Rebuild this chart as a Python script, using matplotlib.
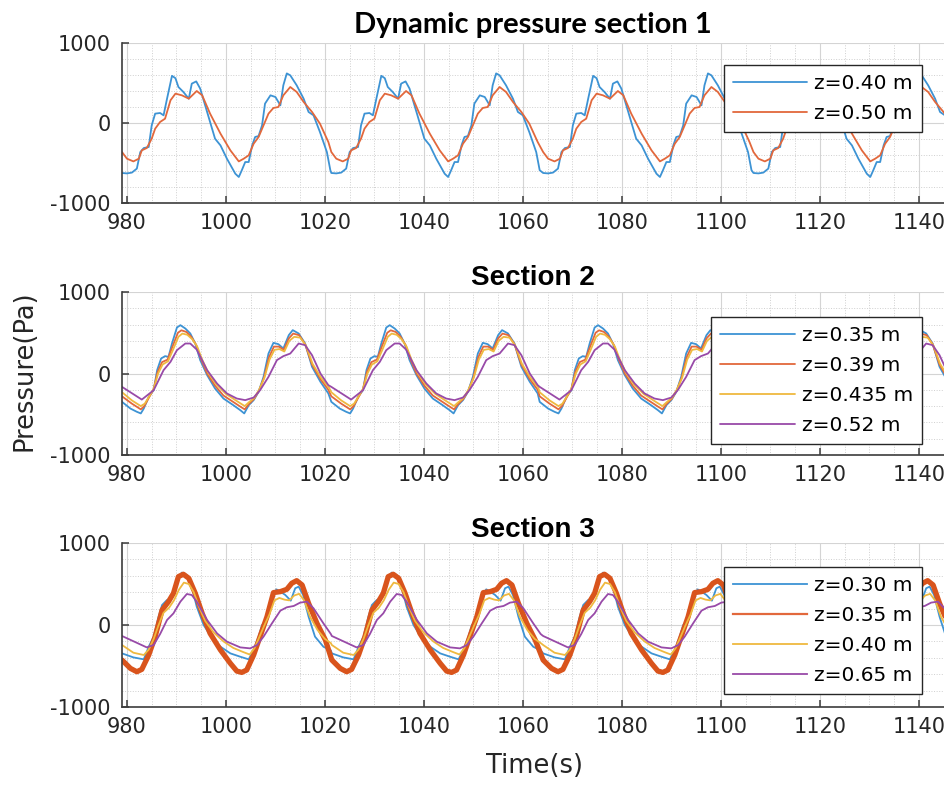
import matplotlib
matplotlib.use('Agg')
import matplotlib.pyplot as plt
import numpy as np
from matplotlib.ticker import MultipleLocator
from matplotlib.lines import Line2D

plt.rcParams['axes.unicode_minus'] = False


# ----------------------------------------------------------------------------------------
#                             DATA AREA
# one double wave cycle (979 s -> ~1021 s), plus the
# start offsets of the following double cycles read off the peaks


# section 1
s1_offsets = [0.0, 42.3, 85.1, 127.6]
s1_labels  = ['z=0.40 m', 'z=0.50 m']

s1_t_040 = [979.0, 980.0, 981.0, 982.0, 982.7, 983.4, 984.4, 985.0, 985.7, 986.7,
            987.4, 988.1, 989.1, 989.8, 990.4, 991.4, 992.5, 993.1, 994.0, 994.8,
            996.2, 997.8, 998.9, 1000.2, 1001.9, 1002.6, 1003.2, 1003.9, 1004.6, 1005.3,
            1005.9, 1006.6, 1007.3, 1007.9, 1009.0, 1010.0, 1011.0, 1011.6, 1012.3, 1013.0,
            1014.3, 1015.7, 1016.7, 1017.7, 1019.0, 1020.4, 1021.1]
s1_p_040 = [-625, -630, -620, -570, -363, -313, -300, -30, 117, 125,
            96, 304, 590, 560, 450, 388, 304, 492, 520, 430,
            138, -196, -280, -446, -634, -675, -592, -488, -488, -280,
            -175, -163, -30, 242, 346, 325, 221, 471, 620, 596,
            471, 304, 138, 96, -113, -363, -590]

s1_t_050 = [979.0, 980.0, 981.3, 982.4, 983.0, 984.0, 985.0, 985.7, 986.7, 987.7,
            988.8, 989.8, 991.1, 992.5, 994.1, 995.2, 996.8, 998.9, 1000.9, 1002.6,
            1003.6, 1004.6, 1005.6, 1006.6, 1007.6, 1008.6, 1009.6, 1010.6, 1011.6, 1013.0,
            1014.3, 1015.7, 1017.4, 1019.0, 1020.7]
s1_p_050 = [-363, -446, -480, -446, -342, -313, -196, -71, 13, 54,
            284, 367, 346, 304, 400, 346, 117, -133, -342, -480,
            -446, -404, -259, -175, -30, 117, 188, 200, 346, 450,
            388, 263, 138, -8, -238]


# section 2
s2_offsets = [0.0, 42.3, 84.4, 126.8]
s2_labels  = ['z=0.35 m', 'z=0.39 m', 'z=0.435 m', 'z=0.52 m']

s2_t_035 = [979.0, 980.7, 982.0, 982.8, 983.4, 984.4, 985.4, 986.1, 986.9, 987.7,
            988.4, 989.1, 990.1, 990.8, 991.8, 992.8, 993.8, 994.8, 996.2, 997.8,
            999.5, 1001.5, 1002.9, 1003.7, 1004.6, 1005.6, 1006.6, 1007.6, 1008.6, 1009.6,
            1010.6, 1011.6, 1012.7, 1013.5, 1014.7, 1016.0, 1017.4, 1019.1, 1020.7]
s2_p_035 = [-348, -430, -470, -490, -430, -286, -205, 41, 184, 213,
            205, 368, 564, 593, 552, 491, 368, 164, -20, -184,
            -307, -389, -450, -490, -389, -327, -225, -41, 245, 376,
            360, 307, 470, 532, 491, 368, 82, -102, -245]

s2_t_039 = [979.0, 981.0, 982.8, 983.5, 984.5, 985.4, 986.2, 987.1, 988.2, 989.2,
            990.3, 991.0, 992.0, 993.0, 994.0, 995.0, 996.2, 997.8, 999.5, 1001.5,
            1003.0, 1003.8, 1004.7, 1005.7, 1006.7, 1007.7, 1008.7, 1009.7, 1010.7, 1011.7,
            1012.7, 1013.6, 1014.8, 1016.0, 1017.4, 1019.1, 1020.7]
s2_p_039 = [-280, -370, -440, -400, -290, -190, 20, 140, 170, 330,
            500, 530, 510, 450, 350, 170, 0, -150, -270, -350,
            -410, -440, -370, -310, -210, -50, 200, 330, 330, 290,
            430, 490, 470, 360, 110, -70, -200]

s2_t_0435 = [979.0, 981.0, 982.8, 983.6, 984.5, 985.4, 986.3, 987.2, 988.3, 989.3,
             990.4, 991.2, 992.2, 993.2, 994.2, 995.2, 996.5, 998.0, 1000.0, 1002.0,
             1003.8, 1004.7, 1005.7, 1006.7, 1007.8, 1008.8, 1009.8, 1010.8, 1011.8, 1012.8,
             1013.8, 1015.0, 1016.2, 1017.5, 1019.2, 1020.8]
s2_p_0435 = [-230, -330, -400, -370, -280, -190, 0, 110, 150, 290,
             450, 490, 475, 420, 330, 170, 0, -130, -250, -330,
             -400, -350, -300, -200, -50, 170, 290, 300, 270, 400,
             450, 440, 340, 120, -50, -170]

s2_t_052 = [979.0, 983.0, 985.4, 987.4, 988.8, 990.1, 991.8, 992.8, 994.1, 996.2,
            998.2, 1000.2, 1002.2, 1003.9, 1005.6, 1006.9, 1008.6, 1010.3, 1011.6, 1013.0,
            1014.7, 1016.0, 1017.4, 1019.1, 1020.7]
s2_p_052 = [-164, -320, -205, 41, 143, 286, 368, 368, 294, 41,
            -123, -245, -307, -327, -295, -205, -41, 164, 213, 245,
            368, 348, 225, 0, -143]


# section 3
s3_offsets = [0.0, 42.4, 85.1, 127.5]
s3_labels  = ['z=0.30 m', 'z=0.35 m', 'z=0.40 m', 'z=0.65 m']

s3_t_030 = [979.0, 981.3, 983.4, 984.4, 985.4, 986.4, 987.1, 988.1, 989.1, 990.1,
            991.1, 992.1, 993.1, 994.1, 995.5, 997.2, 998.9, 1000.9, 1002.9, 1004.6,
            1005.6, 1006.6, 1007.3, 1008.3, 1009.3, 1010.2, 1011.0, 1012.0, 1013.1, 1014.0,
            1014.7, 1015.6, 1016.7, 1018.0, 1019.7, 1021.2]
s3_p_030 = [-346, -395, -419, -265, -142, 102, 244, 305, 326, 550,
            639, 610, 468, 224, 0, -163, -265, -346, -387, -419,
            -305, -142, 0, 61, 326, 435, 407, 366, 297, 448,
            468, 366, 102, -142, -265, -310]

s3_t_035 = [979.0, 980.7, 982.0, 983.0, 984.4, 985.7, 987.1, 988.4, 989.4, 990.4,
            991.4, 992.5, 993.8, 995.2, 996.8, 998.9, 1000.9, 1002.2, 1003.2, 1004.2,
            1005.6, 1006.9, 1008.3, 1009.6, 1011.0, 1012.3, 1013.3, 1014.3, 1015.4, 1016.7,
            1018.4, 1020.1]
s3_p_035 = [-427, -529, -570, -541, -366, -142, 183, 285, 387, 590,
            619, 570, 387, 142, -102, -305, -468, -562, -578, -549,
            -366, -142, 102, 395, 407, 435, 509, 541, 488, 265,
            20, -183]

s3_t_040 = [979.0, 981.3, 983.4, 984.4, 985.4, 986.4, 987.4, 988.5, 989.5, 990.5,
            991.5, 992.5, 993.5, 994.5, 995.8, 997.5, 999.5, 1001.5, 1003.5, 1004.8,
            1005.8, 1006.8, 1007.8, 1008.8, 1009.8, 1010.8, 1011.8, 1012.8, 1013.8, 1014.8,
            1015.8, 1017.0, 1018.5, 1020.0, 1021.2]
s3_p_040 = [-244, -338, -366, -300, -170, 0, 150, 210, 300, 430,
            517, 500, 400, 230, 50, -90, -200, -280, -330, -360,
            -280, -140, 0, 130, 300, 330, 310, 300, 360, 380,
            300, 100, -60, -170, -220]

s3_t_065 = [979.0, 984.0, 985.4, 986.7, 988.1, 989.4, 990.8, 992.1, 993.1, 994.1,
            996.2, 998.2, 1000.2, 1002.9, 1004.9, 1006.3, 1007.6, 1009.3, 1011.0, 1012.3,
            1013.7, 1015.0, 1016.4, 1017.7, 1019.7, 1021.2]
s3_p_065 = [-134, -273, -244, -110, 61, 142, 285, 378, 366, 285,
            61, -102, -203, -273, -285, -244, -142, 20, 175, 216,
            232, 273, 285, 204, 20, -110]


colors = ['#3d93d4', '#e2683c', '#efb93f', '#984aa8']
thick_orange = '#d9541c'


# build()
# - repeat the read double cycle at the read cycle offsets
# -----------------------------------------------------------------------
def build(t_list, p_list, offsets):
    t = np.array(t_list, dtype=float)
    p = np.array(p_list, dtype=float)
    t_out = []
    p_out = []
    for k, off in enumerate(offsets):
        if k + 1 < len(offsets):
            keep = (t - t[0]) < (offsets[k + 1] - off)
        else:
            keep = np.ones_like(t, dtype=bool)
        t_out.append(t[keep] + off)
        p_out.append(p[keep])
    return np.concatenate(t_out), np.concatenate(p_out)


# ----------------------------------------------------------------------------------------
#                             PLOTTING AREA

def style_axes(ax):
    ax.set_xlim(979, 1145.1)
    ax.set_ylim(-1000, 1000)
    ax.set_xticks(np.arange(980, 1141, 20))
    ax.set_yticks([-1000, 0, 1000])
    ax.xaxis.set_minor_locator(MultipleLocator(5))
    ax.yaxis.set_minor_locator(MultipleLocator(200))
    ax.grid(which='major', color='#d4d4d4', linewidth=0.8, linestyle='-')
    ax.grid(which='minor', color='#cfcfcf', linewidth=0.7, linestyle=':')
    ax.set_axisbelow(True)
    for side in ['top', 'right']:
        ax.spines[side].set_visible(False)
    for side in ['left', 'bottom']:
        ax.spines[side].set_color('#3c3c3c')
        ax.spines[side].set_linewidth(1.2)
    ax.tick_params(which='major', direction='in', length=5, width=1.1,
                   colors='#3c3c3c', labelcolor='#262626', labelsize=15)
    ax.tick_params(axis='x', which='major', pad=7)
    ax.tick_params(axis='y', which='major', pad=8)
    ax.tick_params(which='minor', length=0)


def add_legend(fig, ax, handles, labels, top_px):
    leg = ax.legend(handles, labels, loc='upper right',
                    bbox_to_anchor=(922 / 944, 1 - top_px / 785),
                    bbox_transform=fig.transFigure, borderaxespad=0,
                    prop={'family': 'DejaVu Sans', 'size': 14.5},
                    handlelength=3.7, handletextpad=0.35, labelspacing=0.55,
                    borderpad=0.45, fancybox=False, framealpha=1,
                    edgecolor='#262626')
    leg.get_frame().set_linewidth(1.0)


fig = plt.figure(figsize=(9.44, 7.85), dpi=100)
left  = 122 / 944
width = 1 - left
ax1 = fig.add_axes([left, 1 - 203 / 785, width, 160 / 785])
ax2 = fig.add_axes([left, 1 - 455 / 785, width, 163 / 785])
ax3 = fig.add_axes([left, 1 - 707 / 785, width, 164 / 785])

line_kw = dict(linewidth=1.3, solid_joinstyle='round', solid_capstyle='round')

# Section 1
lines = []
for i, (tt, pp) in enumerate([(s1_t_040, s1_p_040), (s1_t_050, s1_p_050)]):
    t, p = build(tt, pp, s1_offsets)
    ln, = ax1.plot(t, p, color=colors[i], **line_kw)
    lines.append(ln)
style_axes(ax1)
ax1.set_title('Dynamic pressure section 1', family='Lato', fontweight='bold',
              fontsize=21, pad=7)
add_legend(fig, ax1, lines, s1_labels, 65)

# Section 2
lines = []
s2_data = [(s2_t_035, s2_p_035), (s2_t_039, s2_p_039),
           (s2_t_0435, s2_p_0435), (s2_t_052, s2_p_052)]
for i, (tt, pp) in enumerate(s2_data):
    t, p = build(tt, pp, s2_offsets)
    ln, = ax2.plot(t, p, color=colors[i], **line_kw)
    lines.append(ln)
style_axes(ax2)
ax2.set_title('Section 2', family='Liberation Sans', fontweight='bold',
              fontsize=20, pad=5)
add_legend(fig, ax2, lines, s2_labels, 317)

# Section 3 (z=0.35 m drawn as a thick band)
handles = []
s3_data = [(s3_t_030, s3_p_030), (s3_t_035, s3_p_035),
           (s3_t_040, s3_p_040), (s3_t_065, s3_p_065)]
for i, (tt, pp) in enumerate(s3_data):
    t, p = build(tt, pp, s3_offsets)
    if i == 1:
        ax3.plot(t, p, color=thick_orange, linewidth=3.8,
                 solid_joinstyle='round', solid_capstyle='round')
    else:
        ax3.plot(t, p, color=colors[i], **line_kw)
    handles.append(Line2D([], [], color=colors[i], linewidth=1.6 if i == 1 else 1.3))
style_axes(ax3)
ax3.set_title('Section 3', family='Liberation Sans', fontweight='bold',
              fontsize=20, pad=4)
add_legend(fig, ax3, handles, s3_labels, 567)

fig.text(25 / 944, 1 - 371 / 785, 'Pressure(Pa)', rotation=90, ha='center',
         va='center', fontsize=18.5, color='#262626')
fig.text(534 / 944, 1 - 773 / 785, 'Time(s)', ha='center', va='baseline',
         fontsize=18.5, color='#262626')

fig.savefig('out.png', dpi=100)
